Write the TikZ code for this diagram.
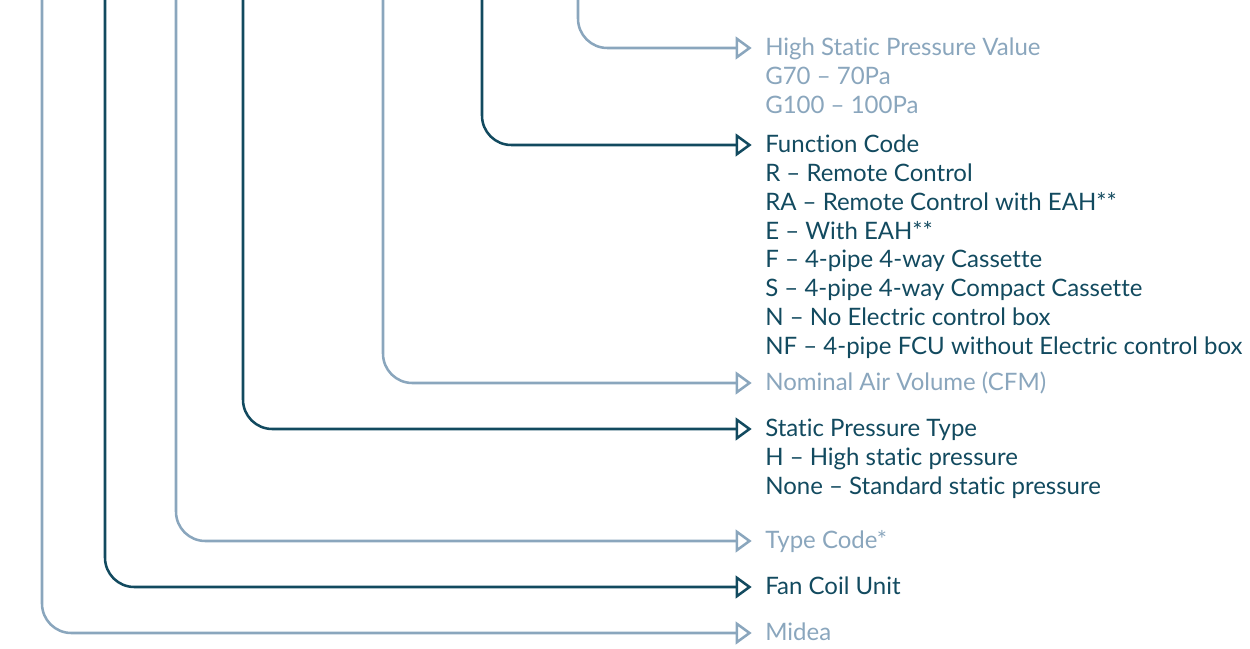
\documentclass[tikz,border=0pt]{standalone}
\usepackage{fontspec}
\setmainfont{Lato}[Ligatures=NoCommon]
\usetikzlibrary{arrows.meta,positioning}
\definecolor{FCDark}{HTML}{124A5F}
\definecolor{FCLight}{HTML}{8AA6BD}

\begin{document}
\begin{tikzpicture}[x=0.75pt,y=-0.75pt,
    lead/.style={line width=1.9pt, rounded corners=22pt,
      -{Triangle[open,length=12pt,width=17pt]}, shorten >=10pt},
    code/.style={anchor=west, inner sep=0pt, text height=13pt, text depth=1.4pt,
      font=\fontsize{18}{21}\selectfont}]
    \useasboundingbox (0,0) rectangle (1250,649);
    % headings
    \node[code, FCLight] (hsp) at (765,48) {High Static Pressure Value};
    \node[code, FCDark] (fc) at (765,145) {Function Code};
    \node[code, FCLight] (nav) at (765,383) {Nominal Air Volume (CFM)};
    \node[code, FCDark] (spt) at (765,429) {Static Pressure Type};
    \node[code, FCLight] (tc) at (765,541) {Type Code*};
    \node[code, FCDark] (fcu) at (765,587) {Fan Coil Unit};
    \node[code, FCLight] (md) at (765,633) {Midea};
    % option lists
    \foreach \txt [count=\i] in {G70 -- 70Pa, G100 -- 100Pa}
        \node[code, FCLight] (hsp-\i) at (765,{48+28.8*\i}) {\txt};
    \foreach \txt [count=\i] in {R -- Remote Control,
            RA -- Remote Control with EAH**,
            E -- With EAH**,
            F -- 4-pipe 4-way Cassette,
            S -- 4-pipe 4-way Compact Cassette,
            N -- No Electric control box,
            NF -- 4-pipe FCU without Electric control box}
        \node[code, FCDark] (fc-\i) at (765,{145+28.8*\i}) {\txt};
    \foreach \txt [count=\i] in {H -- High static pressure,
            None -- Standard static pressure}
        \node[code, FCDark] (spt-\i) at (765,{429+28.8*\i}) {\txt};
    % leaders
    \coordinate (hsp-top) at (578,0);
    \coordinate (fc-top) at (482,0);
    \coordinate (nav-top) at (383,0);
    \coordinate (spt-top) at (243,0);
    \coordinate (tc-top) at (176,0);
    \coordinate (fcu-top) at (105,0);
    \coordinate (md-top) at (42,0);
    \draw[lead, FCLight] (hsp-top) |- (hsp.west);
    \draw[lead, FCDark] (fc-top) |- (fc.west);
    \draw[lead, FCLight] (nav-top) |- (nav.west);
    \draw[lead, FCDark] (spt-top) |- (spt.west);
    \draw[lead, FCLight] (tc-top) |- (tc.west);
    \draw[lead, FCDark] (fcu-top) |- (fcu.west);
    \draw[lead, FCLight] (md-top) |- (md.west);
\end{tikzpicture}
\end{document}
